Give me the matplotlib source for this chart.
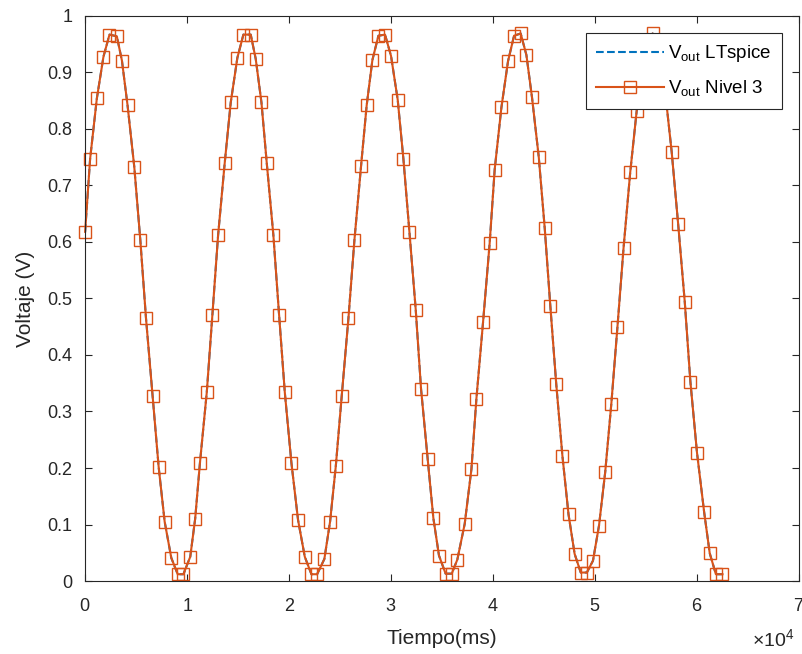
import matplotlib
matplotlib.use('Agg')
import matplotlib.pyplot as plt
from matplotlib.ticker import ScalarFormatter

plt.rcParams['font.family'] = ['Liberation Sans', 'DejaVu Sans']
plt.rcParams['mathtext.default'] = 'regular'

# time samples (ms) and output voltage
t = [0, 490, 1150, 1800, 2390, 3110, 3610, 4160, 4820, 5410,
     5970, 6620, 7210, 7800, 8450, 9080, 9640, 10310, 10790, 11260,
     11930, 12480, 13040, 13690, 14280, 14930, 15520, 16240, 16730, 17290,
     17810, 18460, 19020, 19580, 20230, 20880, 21540, 22190, 22750, 23460,
     24020, 24580, 25160, 25820, 26410, 27060, 27610, 28170, 28760, 29410,
     30000, 30650, 31210, 31800, 32420, 32940, 33590, 34150, 34700, 35350,
     35950, 36500, 37220, 37880, 38370, 39020, 39670, 40160, 40820, 41470,
     42060, 42710, 43270, 43820, 44480, 45070, 45620, 46200, 46800, 47400,
     48000, 48600, 49200, 49800, 50390, 51000, 51600, 52200, 52800, 53450,
     54080, 54650, 55150, 55650, 56250, 56900, 57520, 58150, 58800, 59350,
     60000, 60700, 61250, 61850, 62500]
v = [0.618, 0.747, 0.854, 0.928, 0.967, 0.964, 0.921, 0.842, 0.733, 0.604,
     0.465, 0.327, 0.202, 0.105, 0.041, 0.012, 0.012, 0.043, 0.110, 0.209,
     0.334, 0.471, 0.612, 0.740, 0.847, 0.926, 0.967, 0.967, 0.924, 0.847,
     0.740, 0.612, 0.471, 0.334, 0.209, 0.108, 0.043, 0.012, 0.012, 0.039,
     0.105, 0.203, 0.327, 0.465, 0.604, 0.735, 0.842, 0.922, 0.965, 0.967,
     0.929, 0.852, 0.747, 0.618, 0.480, 0.340, 0.216, 0.111, 0.045, 0.013,
     0.013, 0.038, 0.101, 0.198, 0.323, 0.458, 0.598, 0.728, 0.838, 0.920,
     0.965, 0.969, 0.931, 0.856, 0.751, 0.624, 0.486, 0.348, 0.222, 0.118,
     0.048, 0.015, 0.015, 0.036, 0.098, 0.193, 0.314, 0.450, 0.590, 0.723,
     0.831, 0.912, 0.957, 0.969, 0.940, 0.862, 0.759, 0.632, 0.494, 0.353,
     0.227, 0.122, 0.049, 0.012, 0.012]

blue = '#0072BD'
orange = '#D95319'
grey = '#262626'

fig = plt.figure(figsize=(8.03, 6.54), dpi=100)
ax = fig.add_axes([0.106, 0.1116, 0.889, 0.864])

ax.plot(t, v, '--', color=blue, linewidth=1.5, label='$V_{out}$ LTspice')
ax.plot(t, v, '-s', color=orange, linewidth=1.5, markersize=8,
        markerfacecolor='none', markeredgewidth=1.0, clip_on=False,
        label='$V_{out}$ Nivel 3')

ax.set_xlim(0, 70000)
ax.set_ylim(0, 1)
ax.set_xticks(range(0, 70001, 10000))
ax.set_yticks([0, 0.1, 0.2, 0.3, 0.4, 0.5, 0.6, 0.7, 0.8, 0.9, 1])
ax.set_yticklabels(['0', '0.1', '0.2', '0.3', '0.4', '0.5', '0.6', '0.7', '0.8', '0.9', '1'])

fmt = ScalarFormatter(useMathText=True)
fmt.set_powerlimits((0, 0))
ax.xaxis.set_major_formatter(fmt)
ax.xaxis.get_offset_text().set_visible(False)
fig.text(0.936, 0.012, r'$\times$10$^{4}$', fontsize=14, color=grey)

ax.tick_params(direction='in', top=True, right=True, length=5, width=0.8,
               labelsize=13, colors=grey)
ax.tick_params(axis='x', pad=12)
ax.tick_params(axis='y', pad=9)
for s in ax.spines.values():
    s.set_color(grey)
    s.set_linewidth(0.8)

ax.set_xlabel('Tiempo(ms)', fontsize=15, color=grey, labelpad=10)
ax.set_ylabel('Voltaje (V)', fontsize=15, color=grey, labelpad=9)

leg = ax.legend(loc='upper right', fontsize=13.5, handlelength=3.6,
                fancybox=False, framealpha=1, edgecolor=grey,
                borderaxespad=0.9, handletextpad=0.25, borderpad=0.55,
                labelspacing=0.75)
leg.get_frame().set_linewidth(0.8)

fig.savefig('out.png', dpi=100)
